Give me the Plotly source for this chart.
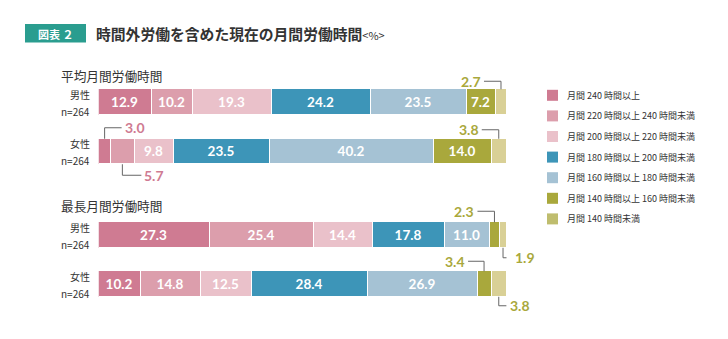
import plotly.graph_objects as go

# ---------------- data ----------------
categories = [
    "月間 240 時間以上",
    "月間 220 時間以上 240 時間未満",
    "月間 200 時間以上 220 時間未満",
    "月間 180 時間以上 200 時間未満",
    "月間 160 時間以上 180 時間未満",
    "月間 140 時間以上 160 時間未満",
    "月間 140 時間未満",
]
section_titles = ["平均月間労働時間", "最長月間労働時間"]
row_genders = ["男性", "女性", "男性", "女性"]
row_ns = ["n=264", "n=264", "n=264", "n=264"]
avg_male = [12.9, 10.2, 19.3, 24.2, 23.5, 7.2, 2.7]
avg_female = [3.0, 5.7, 9.8, 23.5, 40.2, 14.0, 3.8]
max_male = [27.3, 25.4, 14.4, 17.8, 11.0, 2.3, 1.9]
max_female = [10.2, 14.8, 12.5, 28.4, 26.9, 3.4, 3.8]
rows = [avg_male, avg_female, max_male, max_female]

# ---------------- style / layout ----------------
W, H = 728, 339
bar_colors = ["#cf7b92", "#dc9eac", "#eac1ca", "#3d95b8", "#a5c2d4", "#a9a83c", "#d9d096"]
legend_colors = ["#cf7b92", "#dc9eac", "#eac1ca", "#3d95b8", "#a5c2d4", "#a9a83c", "#bfbd6e"]
row_y = [102, 151.5, 235, 284]       # pixel centres of rows (y axis = pixels)
bar_h = 25.5
section_y = [75, 205]
X0, X1 = 98.5, 506.5
CJK = "Noto Sans CJK JP"
NUM = "Lato"
PINK = "#cf7b92"
OLIVE = "#a9a83c"
LINE = "#666666"
SMALL = 6  # values below this get a callout instead of inside text

# callouts: (row, segment, side, horizontal direction, horizontal length px, vertical length px)
callouts = [
    (0, 6, "above", -1, 17, 8),
    (1, 0, "above", +1, 17, 11),
    (1, 1, "below", +1, 19, 11),
    (1, 6, "above", -1, 17, 9),
    (2, 5, "above", -1, 17, 11),
    (2, 6, "below", +1, 9, 10),
    (3, 5, "above", -1, 16, 10),
    (3, 6, "below", +1, 8, 9),
]

fig = go.Figure()
for ci, cat in enumerate(categories):
    xs = [r[ci] for r in rows]
    texts = [f"{v:.1f}" if v >= SMALL else "" for v in xs]
    fig.add_trace(go.Bar(
        y=row_y, x=xs, orientation="h", name=cat,
        width=bar_h,
        marker=dict(color=bar_colors[ci], line=dict(color="white", width=1)),
        text=texts, textposition="inside", insidetextanchor="middle",
        textfont=dict(color="white", size=13.5, family=NUM, weight="bold"),
        hoverinfo="skip", showlegend=False,
    ))

shapes = []
annotations = []

# callouts
for (ri, si, side, d, hl, vl) in callouts:
    vals = rows[ri]
    cx = sum(vals[:si]) + vals[si] / 2
    if side == "above":
        y_edge = row_y[ri] - bar_h / 2
        y_line = y_edge - vl
    else:
        y_edge = row_y[ri] + bar_h / 2
        y_line = y_edge + vl
    shapes.append(dict(type="line", xref="x", yref="y", x0=cx, x1=cx,
                       y0=y_edge, y1=y_line, line=dict(color=LINE, width=1)))
    shapes.append(dict(type="line", xref="x", yref="y", xsizemode="pixel", xanchor=cx,
                       x0=0, x1=d * hl, y0=y_line, y1=y_line, line=dict(color=LINE, width=1)))
    annotations.append(dict(
        x=cx, y=y_line, xref="x", yref="y", text=f"{vals[si]:.1f}",
        showarrow=False, xanchor="left" if d > 0 else "right", yanchor="middle",
        xshift=d * (hl + 1),
        font=dict(size=14, family=NUM, weight="bold", color=PINK if si < 2 else OLIVE),
    ))

# row labels
for ri in range(len(rows)):
    annotations.append(dict(x=91 / W, y=row_y[ri] + 0.5, xref="paper", yref="y", text=row_genders[ri],
                            showarrow=False, xanchor="right", yanchor="bottom", align="right",
                            borderpad=0,
                            font=dict(size=10, family=CJK, color="#333333")))
    annotations.append(dict(x=91 / W, y=row_y[ri] + 0.5, xref="paper", yref="y", text=row_ns[ri],
                            showarrow=False, xanchor="right", yanchor="top", align="right",
                            borderpad=0,
                            font=dict(size=10, family=CJK, color="#333333")))

# section titles
for t, yy in zip(section_titles, section_y):
    annotations.append(dict(x=59 / W, y=yy, xref="paper", yref="y", text=t,
                            showarrow=False, xanchor="left", yanchor="middle",
                            font=dict(size=12.7, family=CJK, color="#333333")))

# title badge
shapes.append(dict(type="rect", xref="paper", yref="y", x0=25 / W, x1=86 / W, y0=24, y1=42.5,
                   fillcolor="#2a9d8f", line=dict(width=0)))
annotations.append(dict(x=55.5 / W, y=33.5, xref="paper", yref="y", text="図表 ２",
                        showarrow=False, xanchor="center", yanchor="middle",
                        font=dict(size=11, family=CJK, color="white", weight="bold")))
annotations.append(dict(x=94 / W, y=33, xref="paper", yref="y",
                        text="時間外労働を含めた現在の月間労働時間<span style='font-size:11px;font-weight:normal'>&lt;%&gt;</span>",
                        showarrow=False, xanchor="left", yanchor="middle",
                        font=dict(size=14.8, family=CJK, color="#333333", weight="bold")))

# legend
for ci, cat in enumerate(categories):
    yc = 95.3 + ci * 20.6
    shapes.append(dict(type="rect", xref="paper", yref="y", x0=547 / W, x1=558 / W,
                       y0=yc - 5.5, y1=yc + 5.5, fillcolor=legend_colors[ci], line=dict(width=0)))
    annotations.append(dict(x=565 / W, y=yc, xref="paper", yref="y", text=cat,
                            showarrow=False, xanchor="left", yanchor="middle",
                            font=dict(size=9, family=CJK, color="#333333")))

fig.update_layout(
    width=W, height=H, margin=dict(l=0, r=0, t=0, b=0),
    barmode="stack", bargap=0,
    plot_bgcolor="white", paper_bgcolor="white",
    xaxis=dict(range=[0, 100], domain=[X0 / W, X1 / W], visible=False, fixedrange=True),
    yaxis=dict(range=[H, 0], domain=[0, 1], visible=False, fixedrange=True),
    uniformtext=dict(minsize=13.5, mode="show"),
    shapes=shapes, annotations=annotations,
    showlegend=False,
)

fig.write_html("out.html")
